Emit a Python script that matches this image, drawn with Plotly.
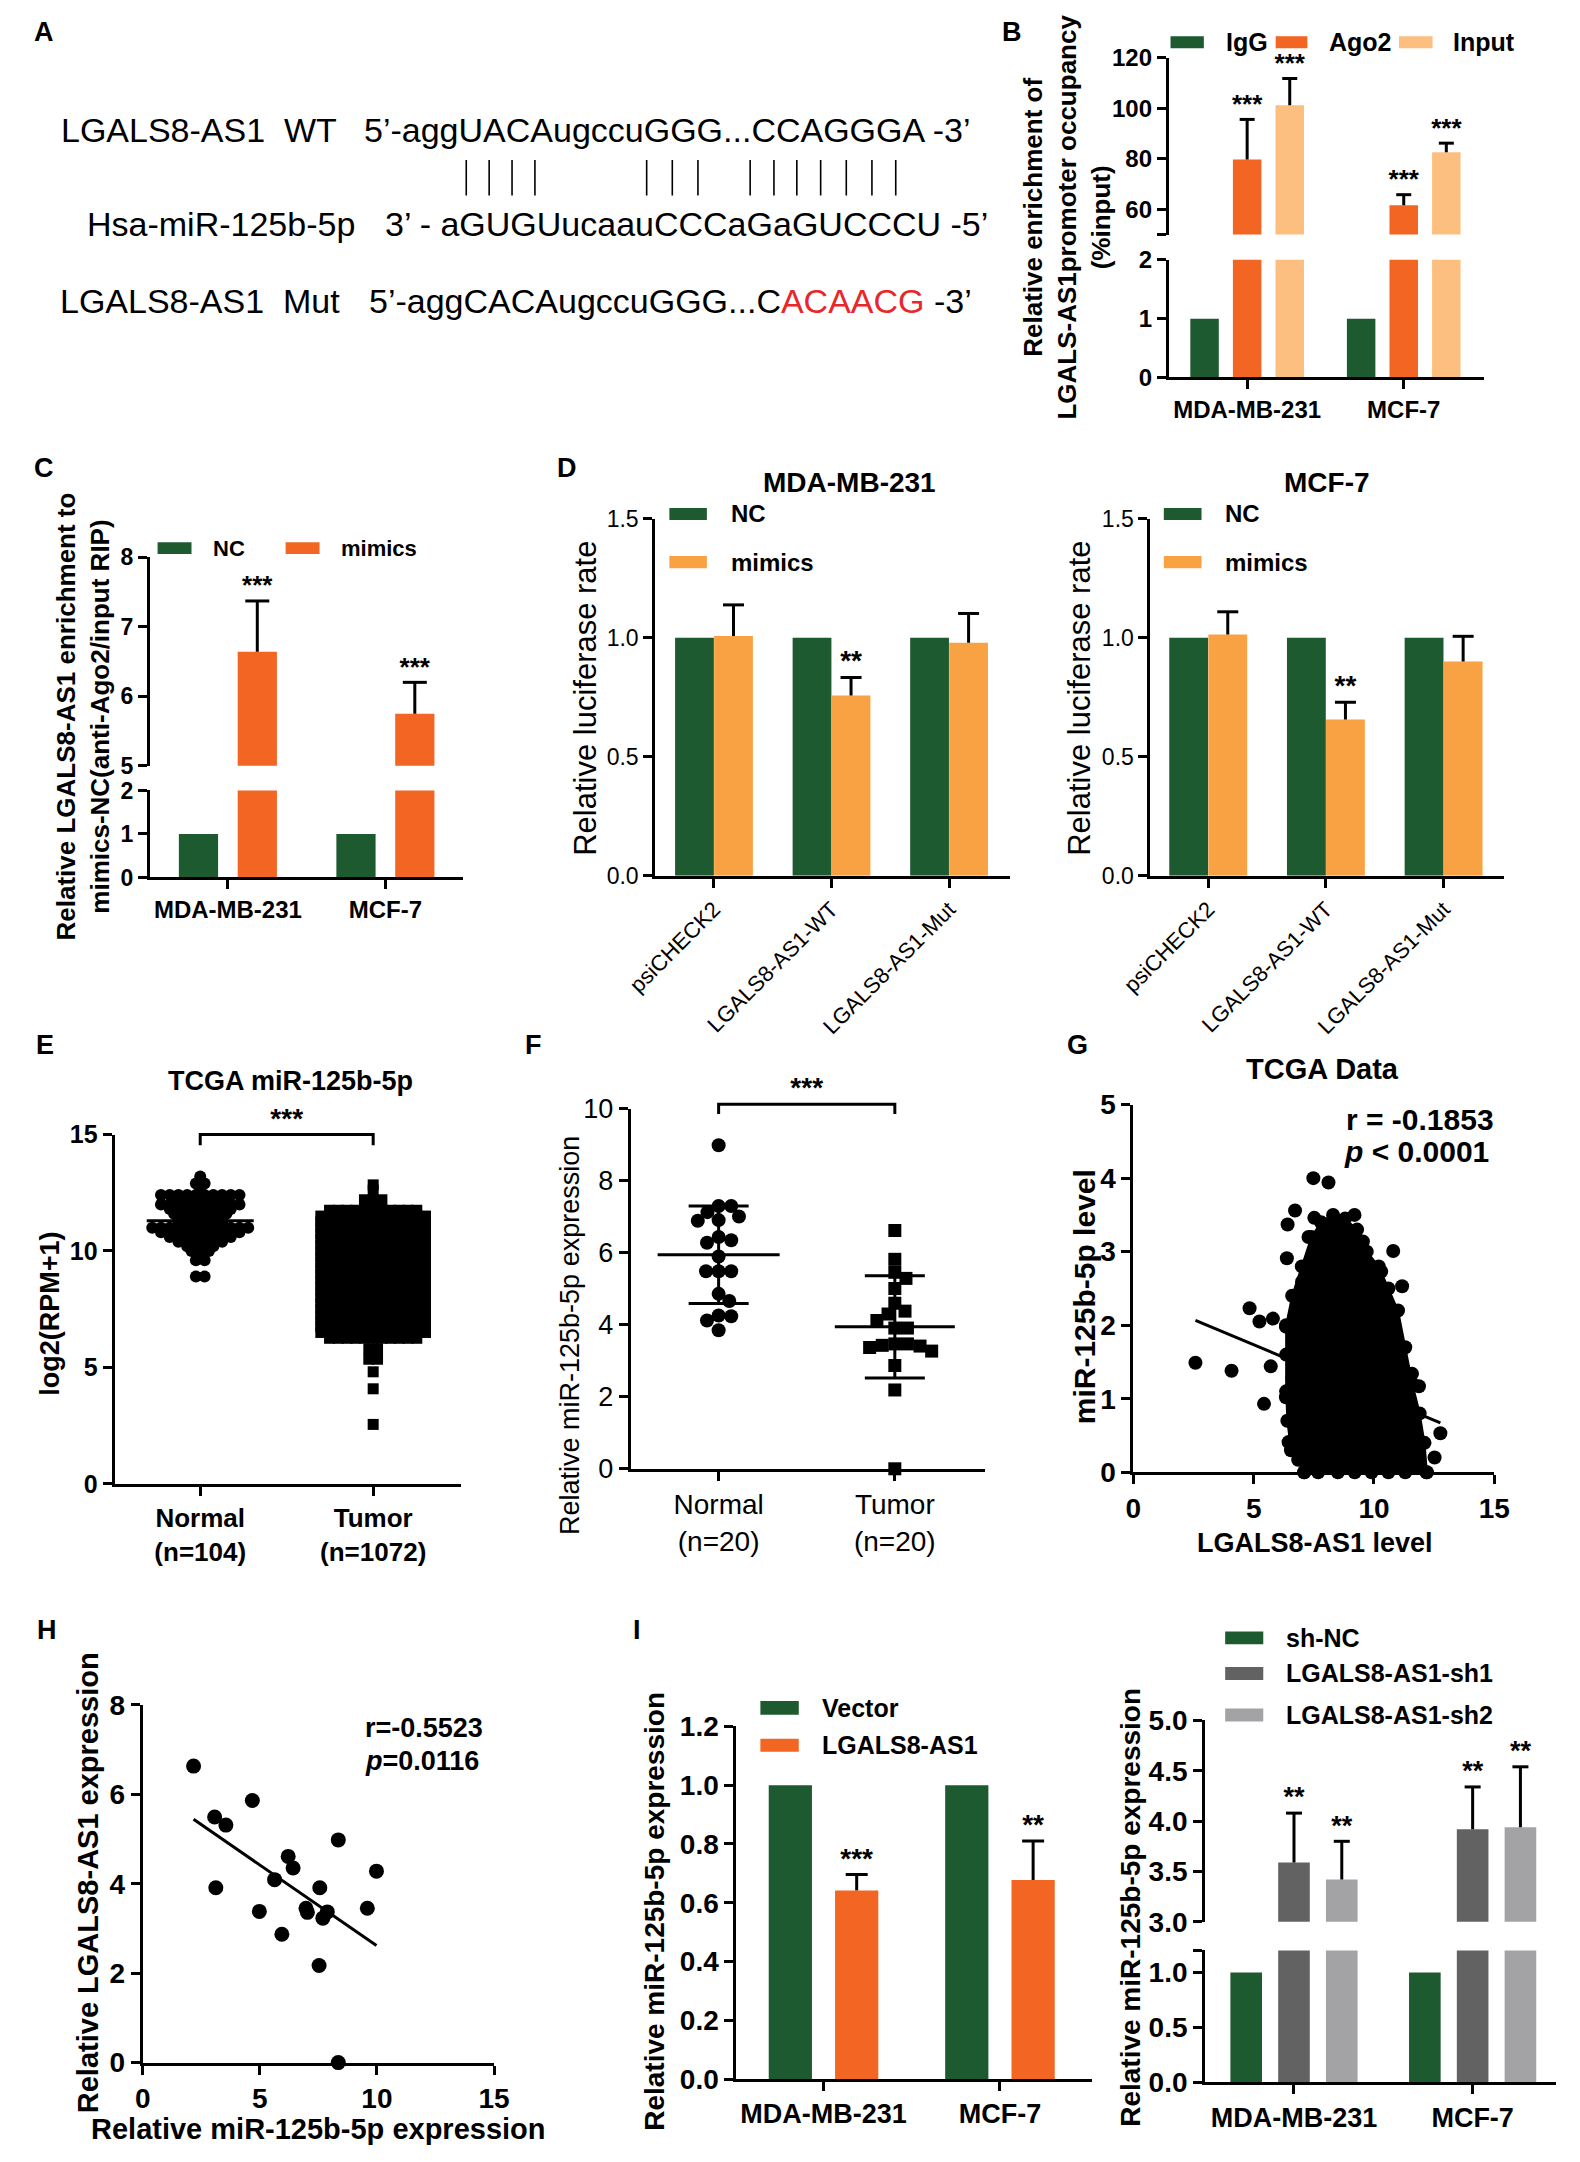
import numpy as np
import plotly.graph_objects as go

# the html page keeps the browser's default 8 px body margin
PAGE_W, PAGE_H = 1580, 2162
OX, OY = 8, 8
FW, FH = PAGE_W - 2 * OX, PAGE_H - 2 * OY - 2
FONT = "Liberation Sans, Arial, Helvetica, sans-serif"
LINE_EW = 1.4          # plotly draws a line-ew marker 1.4 x its size

GREEN = "#1e5a2f"
ORANGE = "#f26522"
PEACH = "#fcbf80"
AMBER = "#f8a244"
DARK_GREY = "#626262"
LIGHT_GREY = "#a3a3a5"
RED = "#e8262b"

# ---------------- A: predicted binding site ----------------
wt_label = "LGALS8-AS1\u00a0\u00a0WT"
wt_seq = "5’-aggUACAugccuGGG...CCAGGGA -3’"
mir_label = "Hsa-miR-125b-5p"
mir_seq = "3’ - aGUGUucaauCCCaGaGUCCCU -5’"
mut_label = "LGALS8-AS1\u00a0\u00a0Mut"
mut_seq = "5’-aggCACAugccuGGG...C"
mut_changed = "ACAACG"
mut_end = " -3’"

# ---------------- B: RIP, Ago2 ----------------
b_cells = ["MDA-MB-231", "MCF-7"]
b_igg = [1, 1]
b_ago2 = [79.7, 61.6]
b_ago2_sd = [15.9, 4.2]
b_input = [101.2, 82.6]
b_input_sd = [10.6, 3.6]
b_stars = ["***", "***"]

# ---------------- C ----------------
c_cells = ["MDA-MB-231", "MCF-7"]
c_nc = [1, 1]
c_mimics = [6.64, 5.75]
c_mimics_sd = [0.73, 0.45]
c_stars = ["***", "***"]

# ---------------- D: luciferase ----------------
d_vectors = ["psiCHECK2", "LGALS8-AS1-WT", "LGALS8-AS1-Mut"]
d_mda_nc = [1, 1, 1]
d_mda_mimics = [1.007, 0.757, 0.979]
d_mda_mimics_sd = [0.131, 0.076, 0.123]
d_mcf_nc = [1, 1, 1]
d_mcf_mimics = [1.014, 0.657, 0.900]
d_mcf_mimics_sd = [0.095, 0.072, 0.106]
d_stars = ["", "**", ""]

# ---------------- E: TCGA dot plot (row level, dots in the row) ----------------
e_groups = ["Normal<br>(n=104)", "Tumor<br>(n=1072)"]
e_normal_level = [13.2, 12.9, 12.6, 12.4, 12.2, 12.0, 11.8, 11.6, 11.4, 11.2,
                  11.0, 10.8, 10.6, 10.4, 10.2, 10.0, 9.6, 8.9]
e_normal_count = [1, 2, 1, 10, 6, 10, 8, 7, 6, 6, 12, 10, 8, 6, 4, 3, 2, 2]
e_tumor_level = [12.84, 12.62, 12.2, 11.75, 11.5, 11.25, 11.0, 10.75, 10.5, 10.25,
                 10.0, 9.75, 9.5, 9.25, 9.0, 8.75, 8.5, 8.25, 8.0, 7.75, 7.5, 7.25,
                 7.0, 6.75, 6.5, 6.25, 5.8, 5.35, 4.81, 4.08, 2.55]
e_tumor_count = [1, 1, 3, 11, 13, 13, 13, 13, 13, 13, 13, 13, 13, 13, 13, 13, 13, 13,
                 13, 13, 13, 13, 13, 13, 13, 11, 2, 2, 1, 1, 1]
e_bracket = [14.54, 15.0]

# ---------------- F: clinical samples ----------------
f_groups = ["Normal<br>(n=20)", "Tumor<br>(n=20)"]
f_normal = [8.99, 7.30, 7.13, 7.30, 6.91, 7.01, 6.89, 6.35, 6.28, 6.44,
            5.90, 5.49, 5.49, 5.49, 4.86, 4.66, 4.24, 4.12, 4.26, 3.85]
f_tumor = [6.62, 5.82, 5.46, 5.29, 5.01, 4.60, 4.30, 4.38, 3.91, 3.91,
           4.12, 3.47, 3.41, 3.37, 3.27, 3.43, 3.47, 2.87, 2.19, 0.0]
f_bracket = [9.86, 10.13]

# ---------------- G: TCGA correlation ----------------
g_blob_x = [7.1, 6.55, 6.4, 6.35, 6.35, 6.35, 6.6, 7.0, 7.4, 7.8, 8.3, 8.8, 9.3,
            9.7, 10.2, 10.6, 11.0, 11.3, 11.6, 11.9, 12.1, 12.2]
g_blob_y = [0.0, 0.3, 0.7, 1.1, 1.6, 2.0, 2.4, 2.8, 3.2, 3.4, 3.5, 3.45, 3.3,
            3.0, 2.8, 2.5, 2.2, 1.7, 1.2, 0.8, 0.4, 0.0]
g_dot_x = [7.48, 8.11, 6.72, 6.41, 7.52, 9.19, 8.49, 8.87, 6.38, 7.28, 7.01, 9.54,
           10.8, 10.3, 11.17, 10.4, 4.83, 5.24, 5.8, 6.34, 2.58, 4.08, 5.71, 5.43,
           6.34, 10.77, 11.58, 11.87, 12.76, 12.52, 12.18, 11.44, 6.45, 6.85, 7.68,
           6.61, 11.24, 8.5, 9.2, 9.9, 10.6, 11.3]
g_dot_y = [4.0, 3.94, 3.56, 3.37, 3.46, 3.5, 3.37, 3.24, 2.91, 3.2, 2.59, 3.14,
           3.01, 2.73, 2.53, 2.24, 2.23, 2.05, 2.09, 1.98, 1.49, 1.38, 1.44, 0.93,
           1.02, 1.98, 1.34, 1.17, 0.53, 0.2, 0.0, 0.65, 0.41, 0.17, 0.0,
           1.28, 1.69, 0.0, 0.0, 0.0, 0.0, 0.0]
g_fit_slope = -0.137
g_fit_intercept = 2.42

# ---------------- H ----------------
h_mir = [2.17, 3.07, 3.55, 4.68, 3.12, 6.21, 6.42, 5.63, 4.98, 5.94,
         6.97, 7.03, 7.56, 7.69, 7.88, 8.35, 7.53, 9.59, 9.98, 8.35]
h_lgals = [6.63, 5.49, 5.31, 5.86, 3.91, 4.61, 4.35, 4.09, 3.38, 2.87,
           3.45, 3.36, 3.91, 3.23, 3.37, 4.98, 2.17, 3.45, 4.28, 0.0]

# ---------------- I ----------------
i_cells = ["MDA-MB-231", "MCF-7"]
i_vector = [1, 1]
i_lgals = [0.642, 0.677]
i_lgals_sd = [0.054, 0.133]
i_lgals_stars = ["***", "**"]
i_shnc = [1, 1]
i_sh1 = [3.59, 3.92]
i_sh1_sd = [0.49, 0.42]
i_sh2 = [3.42, 3.94]
i_sh2_sd = [0.38, 0.60]
i_sh_stars = ["**", "**"]


def px(x):
    return (x - OX) / FW


def py(y):
    return 1 - (y - OY) / FH


def xdom(a, b):
    return [px(a), px(b)]


def ydom(top, bottom):
    return [py(bottom), py(top)]


def tfont(size, bold=True):
    return dict(family=FONT, size=size, color="black", weight="bold" if bold else "normal")


fig = go.Figure()
annotations, shapes, axes = [], [], {}


def note(text, x, y, size, bold=True, anchor="center", angle=0):
    annotations.append(dict(text=text, x=px(x), y=py(y), xref="paper", yref="paper",
                            xanchor=anchor, yanchor="middle", showarrow=False,
                            textangle=angle, font=tfont(size, bold)))


def key(x0, x1, yc, h, color, label, tx, size):
    shapes.append(dict(type="rect", xref="paper", yref="paper", x0=px(x0), x1=px(x1),
                       y0=py(yc + h / 2), y1=py(yc - h / 2), fillcolor=color,
                       line=dict(width=0)))
    note(label, tx, yc, size, anchor="left")


AX = dict(showline=True, linewidth=3, linecolor="black", ticks="outside", ticklen=9,
          tickwidth=3, tickcolor="black", showgrid=False, zeroline=False)


def axis(dom, rng, anchor, **kw):
    d = dict(AX)
    d.update(domain=dom, range=rng, anchor=anchor)
    d.update(kw)
    return d


def hidden(dom, rng, anchor):
    return dict(domain=dom, range=rng, anchor=anchor, visible=False)


def bars(xa, ya, series, colors, slot, width):
    n = len(series)
    for i, (vals, col) in enumerate(zip(series, colors)):
        shift = (i - (n - 1) / 2) * slot
        fig.add_trace(go.Bar(x=list(range(len(vals))), y=vals, width=width,
                             offset=shift - width / 2,
                             marker=dict(color=col, line=dict(width=0)),
                             xaxis=xa, yaxis=ya))


def sd_up(xa, ya, n, i, vals, sds, stars, slot, cap, star_size):
    shift = (i - (n - 1) / 2) * slot
    xc = [k + shift for k in range(len(vals))]
    tops = [v + s for v, s in zip(vals, sds)]
    xs, ys = [], []
    for x, v, t in zip(xc, vals, tops):
        xs += [x, x, None]
        ys += [v, t, None]
    fig.add_trace(go.Scatter(x=xs, y=ys, mode="lines", line=dict(color="black", width=3),
                             xaxis=xa, yaxis=ya))
    fig.add_trace(go.Scatter(x=xc, y=tops, mode="markers", cliponaxis=False,
                             marker=dict(symbol="line-ew", size=cap / LINE_EW,
                                         line=dict(color="black", width=3)),
                             xaxis=xa, yaxis=ya))
    fig.add_trace(go.Scatter(x=xc, y=tops, mode="text", text=stars, cliponaxis=False,
                             textposition="top center", textfont=tfont(star_size),
                             xaxis=xa, yaxis=ya))


def row_layout(levels, counts, step_px, cat_px):
    xs, ys = [], []
    for v, n in zip(levels, counts):
        for j in range(n):
            xs.append((j - (n - 1) / 2) * step_px / cat_px)
            ys.append(v)
    return np.array(xs), np.array(ys)


def swarm(values, unit_px, d):
    placed, out = [], [0.0] * len(values)
    for i in sorted(range(len(values)), key=lambda k: -values[k]):
        y = values[i] * unit_px
        near = [(x, yy) for x, yy in placed if abs(yy - y) < d]
        k, found = 0, None
        while found is None:
            for c in ((0.0,) if k == 0 else (k * 0.5, -k * 0.5)):
                if all((c - x) ** 2 + (y - yy) ** 2 >= d * d for x, yy in near):
                    found = c
                    break
            k += 1
        placed.append((found, y))
        out[i] = found
    return np.array(out)


def mean_sd(xa, ya, x, vals, line_px, cap_px):
    fig.add_trace(go.Scatter(x=[x], y=[np.mean(vals)], mode="markers", cliponaxis=False,
                             marker=dict(symbol="line-ew", size=line_px / LINE_EW,
                                         line=dict(color="black", width=3)),
                             error_y=dict(type="data", array=[np.std(vals, ddof=1)],
                                          color="black", thickness=3, width=cap_px),
                             xaxis=xa, yaxis=ya))


def bracket(xa, ya, levels, stars, size):
    low, high = levels
    fig.add_trace(go.Scatter(x=[0, 0, 1, 1], y=[low, high, high, low], mode="lines",
                             line=dict(color="black", width=3), xaxis=xa, yaxis=ya))
    fig.add_trace(go.Scatter(x=[0.5], y=[high], mode="text", text=[stars],
                             textposition="top center", textfont=tfont(size),
                             cliponaxis=False, xaxis=xa, yaxis=ya))


# ================= A =================
A_SIZE = 34
ARIAL = {"5": .556, "3": .556, "’": .222, "-": .333, " ": .278, ".": .278,
         "a": .556, "g": .556, "u": .556, "c": .5,
         "U": .722, "A": .667, "C": .722, "G": .778}
axes["xaxis"] = hidden(xdom(8, 1050), [8, 1050], "y")
axes["yaxis"] = hidden(ydom(8, 380), [380, 8], "x")
note(wt_label, 28, 116.7, A_SIZE, bold=False, anchor="left")
note(wt_seq, 340, 116.7, A_SIZE, bold=False, anchor="left")
note(mir_label, 54, 211.7, A_SIZE, bold=False, anchor="left")
note(mir_seq, 362, 211.7, A_SIZE, bold=False, anchor="left")
note(mut_label, 27, 290, A_SIZE, bold=False, anchor="left")
note(mut_seq + f'<span style="color:{RED}">' + mut_changed + "</span>" + mut_end,
     345, 290, A_SIZE, bold=False, anchor="left")

pair_x, pair_y, cursor = [], [], 341
for ch in wt_seq:
    w = ARIAL[ch] * A_SIZE
    if ch.isupper():
        pair_x += [cursor + w / 2, cursor + w / 2, None]
        pair_y += [147, 183, None]
    cursor += w
fig.add_trace(go.Scatter(x=pair_x, y=pair_y, mode="lines",
                         line=dict(color="black", width=1.6), xaxis="x", yaxis="y"))

# ================= B =================
axes["xaxis2"] = axis(xdom(1172.6, 1497.3), [-0.5, 1.51], "y2", tickvals=[0, 1],
                      ticktext=b_cells, tickfont=tfont(24))
axes["yaxis2"] = axis(ydom(248.3, 367.7), [0, 2], "x2", tickvals=[0, 1, 2],
                      tickfont=tfont(24))
axes["yaxis3"] = axis(ydom(43.3, 222.7), [50, 120], "x2",
                      tickvals=[50, 60, 80, 100, 120],
                      ticktext=["", "60", "80", "100", "120"], tickfont=tfont(24))
for ya in ("y2", "y3"):
    bars("x2", ya, [b_igg, b_ago2, b_input], [GREEN, ORANGE, PEACH], 0.272, 0.182)
sd_up("x2", "y3", 3, 1, b_ago2, b_ago2_sd, b_stars, 0.272, 15, 26)
sd_up("x2", "y3", 3, 2, b_input, b_input_sd, b_stars, 0.272, 15, 26)
key(1174.3, 1208.7, 27.5, 12, GREEN, "IgG", 1229.4, 25)
key(1282.8, 1315.5, 27.5, 12, ORANGE, "Ago2", 1336, 25)
key(1410, 1444.7, 27.5, 12, PEACH, "Input", 1463.6, 25)
note("Relative enrichment of<br>LGALS-AS1promoter occupancy<br>(%input)",
     1068, 205, 26, angle=-90)

# ================= C =================
axes["xaxis3"] = axis(xdom(121.4, 444.6), [-0.495, 1.494], "y4", tickvals=[0, 1],
                      ticktext=c_cells, tickfont=tfont(24))
axes["yaxis4"] = axis(ydom(786.7, 875), [0, 2], "x3", tickvals=[0, 1, 2],
                      tickfont=tfont(23))
axes["yaxis5"] = axis(ydom(550, 761.7), [5, 8], "x3", tickvals=[5, 6, 7, 8],
                      tickfont=tfont(23))
for ya in ("y4", "y5"):
    bars("x3", ya, [c_nc, c_mimics], [GREEN, ORANGE], 0.3735, 0.249)
sd_up("x3", "y5", 2, 1, c_mimics, c_mimics_sd, c_stars, 0.3735, 24, 26)
key(129.3, 164.3, 540.8, 12, GREEN, "NC", 184.6, 22)
key(261.4, 296.4, 540.8, 12, ORANGE, "mimics", 316, 22)
note("Relative LGALS8-AS1 enrichment to<br>mimics-NC(anti-Ago2/input RIP)",
     52, 712, 26, angle=-90)

# ================= D =================
for xa, ya, x0, x1, rng, nc, mim, sd in (
        ("x4", "y6", 642.7, 1008.3, [-0.5, 2.515], d_mda_nc, d_mda_mimics, d_mda_mimics_sd),
        ("x5", "y7", 1153.6, 1518.7, [-0.491, 2.516], d_mcf_nc, d_mcf_mimics, d_mcf_mimics_sd)):
    axes["xaxis" + xa[1:]] = axis(xdom(x0, x1), rng, ya, tickvals=[0, 1, 2],
                                  ticktext=d_vectors, tickangle=-45,
                                  tickfont=tfont(22, False))
    axes["yaxis" + ya[1:]] = axis(ydom(511, 873.3), [0, 1.5], xa,
                                  tickvals=[0, 0.5, 1, 1.5], tickformat=".1f",
                                  tickfont=tfont(23, False))
    bars(xa, ya, [nc, mim], [GREEN, AMBER], 0.332, 0.33)
    sd_up(xa, ya, 2, 1, mim, sd, d_stars, 0.332, 21, 28)
note("MDA-MB-231", 843.3, 474, 28)
note("MCF-7", 1336, 474, 28)
note("Relative luciferase rate", 570, 693, 31, bold=False, angle=-90)
note("Relative luciferase rate", 1079.6, 693, 31, bold=False, angle=-90)
key(657.3, 696, 506.2, 12.3, GREEN, "NC", 719.3, 24)
key(657.3, 696, 555, 12.3, AMBER, "mimics", 719.3, 24)
key(1167.4, 1206.3, 506.2, 12.3, GREEN, "NC", 1228.7, 24)
key(1167.4, 1206.3, 555, 12.3, AMBER, "mimics", 1228.7, 24)

# ================= E =================
E_CAT, E_UNIT = 178.4, 23.62
axes["xaxis6"] = axis(xdom(85, 442), [-0.495, 1.506], "y8", tickvals=[0, 1],
                      ticktext=e_groups, tickfont=tfont(26))
axes["yaxis8"] = axis(ydom(1135.9, 1490.2), [0, 15], "x6", tickvals=[0, 5, 10, 15],
                      tickfont=tfont(25))
axes["yaxis15"] = hidden(ydom(1080, 1490.2), [0, (1490.2 - 1080) / E_UNIT], "x6")
nx, ny = row_layout(e_normal_level, e_normal_count, 9, E_CAT)
tx, ty = row_layout(e_tumor_level, e_tumor_count, 9, E_CAT)
fig.add_trace(go.Scatter(x=nx, y=ny, mode="markers", cliponaxis=False,
                         marker=dict(symbol="circle", size=12, color="black"),
                         xaxis="x6", yaxis="y8"))
fig.add_trace(go.Scatter(x=1 + tx, y=ty, mode="markers", cliponaxis=False,
                         marker=dict(symbol="square", size=11, color="black"),
                         xaxis="x6", yaxis="y8"))
mean_sd("x6", "y8", 0, ny, 107, 14)
mean_sd("x6", "y8", 1, ty, 100, 14)
bracket("x6", "y15", e_bracket, "***", 28)
note("TCGA miR-125b-5p", 266.7, 1081.7, 27)
note("log2(RPM+1)", 18, 1318, 27, angle=-90)

# ================= F =================
F_CAT, F_UNIT = 181.8, 36.52
axes["xaxis7"] = axis(xdom(617.4, 982.6), [-0.499, 1.51], "y9", tickvals=[0, 1],
                      ticktext=f_groups, tickfont=tfont(28, False))
axes["yaxis9"] = axis(ydom(1109.8, 1475), [0, 10], "x7", tickvals=[0, 2, 4, 6, 8, 10],
                      tickfont=tfont(27, False))
axes["yaxis16"] = hidden(ydom(1060, 1475), [0, (1475 - 1060) / F_UNIT], "x7")
fig.add_trace(go.Scatter(x=swarm(f_normal, F_UNIT, 13) / F_CAT, y=f_normal,
                         mode="markers", cliponaxis=False,
                         marker=dict(symbol="circle", size=14, color="black"),
                         xaxis="x7", yaxis="y9"))
fig.add_trace(go.Scatter(x=1 + swarm(f_tumor, F_UNIT, 13) / F_CAT, y=f_tumor,
                         mode="markers", cliponaxis=False,
                         marker=dict(symbol="square", size=13, color="black"),
                         xaxis="x7", yaxis="y9"))
mean_sd("x7", "y9", 0, f_normal, 122, 30)
mean_sd("x7", "y9", 1, f_tumor, 120, 30)
bracket("x7", "y16", f_bracket, "***", 28)
note("Relative miR-125b-5p expression", 554, 1340, 27, bold=False, angle=-90)

# ================= G =================
axes["xaxis8"] = axis(xdom(1136, 1508.3), [0, 15], "y10", tickvals=[0, 5, 10, 15],
                      tickfont=tfont(28))
axes["yaxis10"] = axis(ydom(1105.5, 1478.5), [0, 5], "x8", tickvals=[0, 1, 2, 3, 4, 5],
                       tickfont=tfont(28))
fig.add_trace(go.Scatter(x=g_blob_x + g_blob_x[:1], y=g_blob_y + g_blob_y[:1],
                         mode="lines+markers", fill="toself", fillcolor="black",
                         cliponaxis=False, line=dict(color="black", width=2),
                         marker=dict(symbol="circle", size=14, color="black"),
                         xaxis="x8", yaxis="y10"))
fig.add_trace(go.Scatter(x=g_dot_x, y=g_dot_y, mode="markers", cliponaxis=False,
                         marker=dict(symbol="circle", size=14, color="black"),
                         xaxis="x8", yaxis="y10"))
g_line_x = np.array([min(g_dot_x), max(g_dot_x)])
fig.add_trace(go.Scatter(x=g_line_x, y=g_fit_slope * g_line_x + g_fit_intercept,
                         mode="lines", line=dict(color="black", width=3),
                         xaxis="x8", yaxis="y10"))
note("TCGA Data", 1331, 1069.5, 29)
note("miR-125b-5p level", 1085, 1300, 30, angle=-90)
note("LGALS8-AS1 level", 1323, 1550, 27)
note("r = -0.1853", 1353, 1120.7, 30, anchor="left")
note("<i>p</i> &lt; 0.0001", 1351, 1153.2, 30, anchor="left")

# ================= H =================
axes["xaxis9"] = axis(xdom(114, 476.4), [0, 15], "y11", tickvals=[0, 5, 10, 15],
                      tickfont=tfont(28))
axes["yaxis11"] = axis(ydom(1714.5, 2077.5), [0, 8], "x9", tickvals=[0, 2, 4, 6, 8],
                       tickfont=tfont(28))
fig.add_trace(go.Scatter(x=h_mir, y=h_lgals, mode="markers", cliponaxis=False,
                         marker=dict(symbol="circle", size=15, color="black"),
                         xaxis="x9", yaxis="y11"))
h_slope, h_icpt = np.polyfit(h_mir, h_lgals, 1)
h_line_x = np.array([min(h_mir), max(h_mir)])
fig.add_trace(go.Scatter(x=h_line_x, y=h_slope * h_line_x + h_icpt, mode="lines",
                         line=dict(color="black", width=3), xaxis="x9", yaxis="y11"))
note("Relative LGALS8-AS1 expression", 57, 1895, 29, angle=-90)
note("Relative miR-125b-5p expression", 295, 2145, 29)
note("r=-0.5523", 341, 1738.4, 27, anchor="left")
note("<i>p</i>=0.0116", 341, 1772, 27, anchor="left")

# ================= I =================
axes["xaxis10"] = axis(xdom(726.4, 1093), [-0.494, 1.52], "y12", tickvals=[0, 1],
                       ticktext=i_cells, tickfont=tfont(27))
axes["yaxis12"] = axis(ydom(1736.4, 2094.2), [0, 1.2], "x10",
                       tickvals=[0, 0.2, 0.4, 0.6, 0.8, 1.0, 1.2], tickformat=".1f",
                       tickfont=tfont(28))
bars("x10", "y12", [i_vector, i_lgals], [GREEN, ORANGE], 0.376, 0.245)
sd_up("x10", "y12", 2, 1, i_lgals, i_lgals_sd, i_lgals_stars, 0.376, 22, 28)
key(751.2, 790.8, 1717.5, 14, GREEN, "Vector", 812.5, 25)
key(751.2, 790.8, 1755.5, 13, ORANGE, "LGALS8-AS1", 812.5, 25)
note("Relative miR-125b-5p expression", 642, 1924, 28, angle=-90)

axes["xaxis11"] = axis(xdom(1210, 1572), [-0.4975, 1.4666], "y13", tickvals=[0, 1],
                       ticktext=i_cells, tickfont=tfont(27))
axes["yaxis13"] = axis(ydom(1963.7, 2097.4), [0, 1.2], "x11",
                       tickvals=[0, 0.5, 1.0, 1.2], ticktext=["0.0", "0.5", "1.0", ""],
                       tickfont=tfont(28))
axes["yaxis14"] = axis(ydom(1730.4, 1934.7), [3, 5], "x11",
                       tickvals=[3, 3.5, 4, 4.5, 5], tickformat=".1f", tickfont=tfont(28))
for ya in ("y13", "y14"):
    bars("x11", ya, [i_shnc, i_sh1, i_sh2], [GREEN, DARK_GREY, LIGHT_GREY], 0.2675, 0.177)
sd_up("x11", "y14", 3, 1, i_sh1, i_sh1_sd, i_sh_stars, 0.2675, 16, 27)
sd_up("x11", "y14", 3, 2, i_sh2, i_sh2_sd, i_sh_stars, 0.2675, 16, 27)
key(1230.7, 1270, 1646.5, 13, GREEN, "sh-NC", 1291.7, 25)
key(1230.7, 1270, 1682.7, 13, DARK_GREY, "LGALS8-AS1-sh1", 1291.7, 25)
key(1230.7, 1270, 1724.8, 13, LIGHT_GREY, "LGALS8-AS1-sh2", 1291.7, 25)
note("Relative miR-125b-5p expression", 1133, 1920, 28, angle=-90)

# ================= panel letters =================
for letter, x, y in (("A", 12, 17), ("B", 1011, 17), ("C", 12, 460), ("D", 552, 460),
                     ("E", 13, 1045), ("F", 517, 1045), ("G", 1078, 1045),
                     ("H", 15, 1639), ("I", 624, 1639)):
    note(letter, x, y, 27)

fig.update_traces(showlegend=False, hoverinfo="skip")
fig.update_layout(width=FW, height=FH, margin=dict(l=0, r=0, t=0, b=0),
                  paper_bgcolor="white", plot_bgcolor="rgba(0,0,0,0)",
                  barmode="overlay", showlegend=False, hovermode=False,
                  font=dict(family=FONT, color="black"),
                  annotations=annotations, shapes=shapes, **axes)
fig.write_html("out.html")
